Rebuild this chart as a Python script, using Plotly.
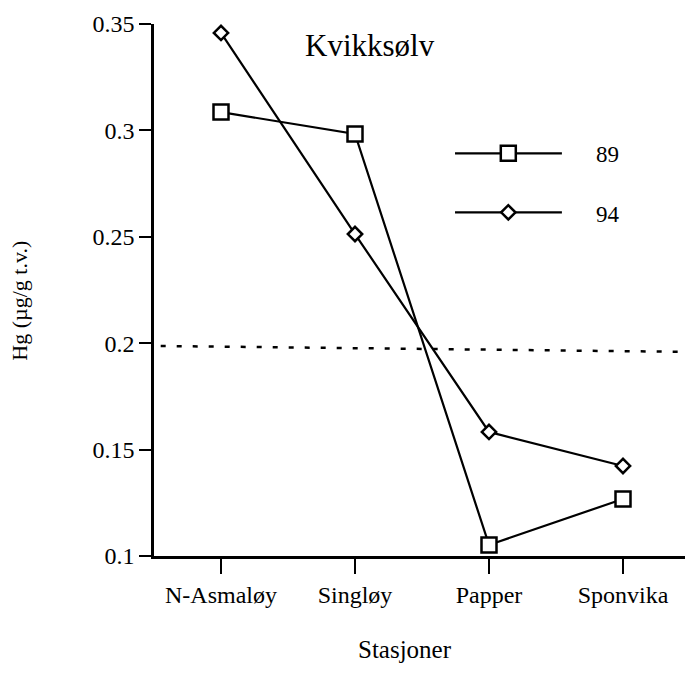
import plotly.graph_objects as go

stations = ["N-Asmaløy", "Singløy", "Papper", "Sponvika"]
hg_89 = [0.3086, 0.2983, 0.1052, 0.1268]
hg_94 = [0.3458, 0.2513, 0.1583, 0.1423]
ref_x = [-0.45, 3.5]
ref_y = [0.1987, 0.1959]
y_ticks = [0.1, 0.15, 0.2, 0.25, 0.3, 0.35]
series_names = ["89", "94"]

FONT = "Liberation Serif"
x_pos = list(range(len(stations)))

fig = go.Figure()
fig.add_trace(go.Scatter(x=ref_x, y=ref_y, mode="lines",
                         line=dict(color="black", width=2.5, dash="5px,11px"),
                         showlegend=False, hoverinfo="skip"))
fig.add_trace(go.Scatter(x=x_pos, y=hg_89, mode="lines+markers", name=series_names[0],
                         line=dict(color="black", width=2.2),
                         marker=dict(symbol="square", size=15, color="white",
                                     line=dict(color="black", width=2.5)),
                         showlegend=False))
fig.add_trace(go.Scatter(x=x_pos, y=hg_94, mode="lines+markers", name=series_names[1],
                         line=dict(color="black", width=2.2),
                         marker=dict(symbol="diamond", size=11, color="white",
                                     line=dict(color="black", width=2.5)),
                         showlegend=False))

# manual legend on an overlay axis (0..1 paper-like)
leg_y = [0.757, 0.646]
leg_syms = [("square", 15), ("diamond", 11)]
for (sym, sz), ly in zip(leg_syms, leg_y):
    fig.add_trace(go.Scatter(x=[0.5616, 0.761], y=[ly, ly], mode="lines",
                             xaxis="x2", yaxis="y2",
                             line=dict(color="black", width=2.2),
                             showlegend=False, hoverinfo="skip"))
    fig.add_trace(go.Scatter(x=[0.661], y=[ly], mode="markers",
                             xaxis="x2", yaxis="y2",
                             marker=dict(symbol=sym, size=sz, color="white",
                                         line=dict(color="black", width=2.5)),
                             showlegend=False, hoverinfo="skip"))

annotations = [
    dict(text="Kvikksølv", x=0.403, y=0.9605, xref="paper", yref="paper",
         xanchor="center", yanchor="middle",
         showarrow=False, font=dict(family=FONT, size=31, color="black")),
    dict(text=series_names[0], x=0.821, y=0.754, xref="paper", yref="paper",
         xanchor="left", yanchor="middle",
         showarrow=False, font=dict(family=FONT, size=23, color="black")),
    dict(text=series_names[1], x=0.821, y=0.641, xref="paper", yref="paper",
         xanchor="left", yanchor="middle",
         showarrow=False, font=dict(family=FONT, size=23, color="black")),
    dict(text="Hg (µg/g t.v.)", x=-0.25, y=0.48, xref="paper", yref="paper",
         xanchor="center", yanchor="middle",
         textangle=-90, showarrow=False, font=dict(family=FONT, size=22, color="black")),
    dict(text="Stasjoner", x=0.468, y=-0.176, xref="paper", yref="paper",
         xanchor="center", yanchor="middle",
         showarrow=False, font=dict(family=FONT, size=25, color="black")),
]

fig.update_layout(
    width=685, height=679,
    margin=dict(l=146, r=3, t=16, b=131),
    paper_bgcolor="white", plot_bgcolor="white",
    font=dict(family=FONT, color="black"),
    showlegend=False,
    annotations=annotations,
    xaxis=dict(range=[-0.5, 3.5], tickvals=x_pos, ticktext=stations,
               showgrid=False, zeroline=False, showline=True, linecolor="black",
               linewidth=2.5, ticks="outside", ticklen=15, tickwidth=2,
               tickcolor="black", tickfont=dict(family=FONT, size=24, color="black")),
    yaxis=dict(range=[0.1, 0.35], tickvals=y_ticks,
               showgrid=False, zeroline=False, showline=True, linecolor="black",
               linewidth=2.5, ticks="outside", ticklen=12, tickwidth=2,
               tickcolor="black", tickfont=dict(family=FONT, size=24, color="black")),
    xaxis2=dict(range=[0, 1], overlaying="x", visible=False, fixedrange=True),
    yaxis2=dict(range=[0, 1], overlaying="y", visible=False, fixedrange=True),
)

fig.write_html("out.html")
